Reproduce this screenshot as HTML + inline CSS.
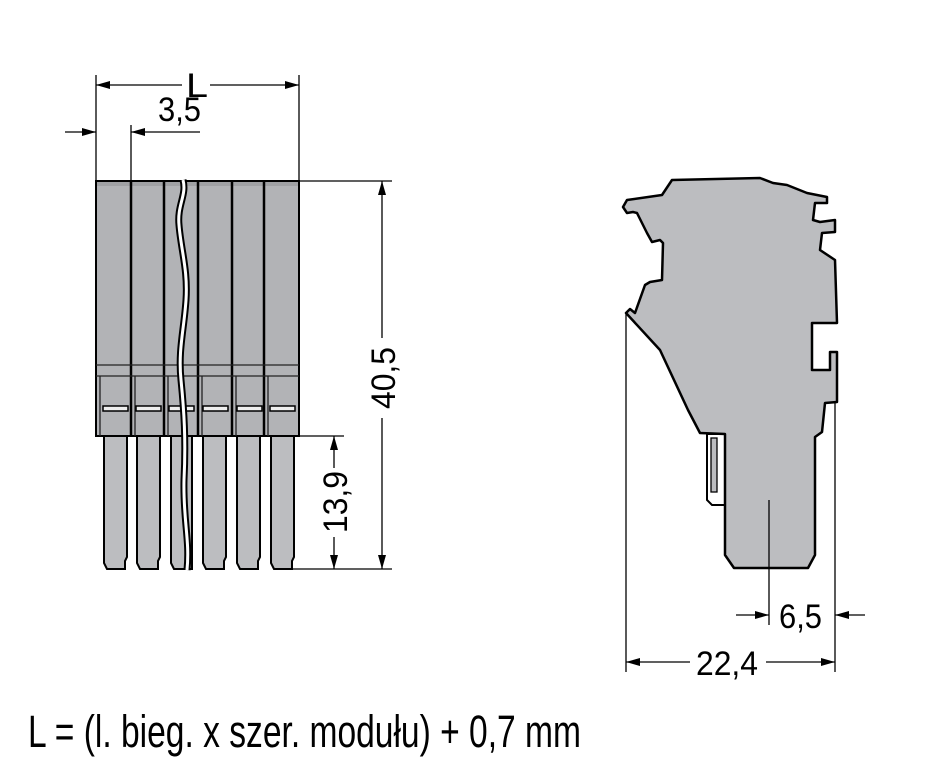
<!DOCTYPE html>
<html><head><meta charset="utf-8"><style>html,body{margin:0;padding:0;background:#fff}svg{display:block}</style></head>
<body>
<svg width="941" height="781" viewBox="0 0 941 781" xmlns="http://www.w3.org/2000/svg" font-family="Liberation Sans, sans-serif">
<defs>
<marker id="a" viewBox="0 0 14 10" refX="14" refY="5" markerWidth="14" markerHeight="10" markerUnits="userSpaceOnUse" orient="auto-start-reverse"><path d="M0,1 L14,5 L0,9Z" fill="#000"/></marker>
</defs>
<g fill="#bcbdc0" stroke="#000" stroke-width="2">
<path d="M104,436 V563 L107,569 H125 V561 L127,557 V436"/>
<path d="M137,436 V563 L140,569 H158 V561 L160,557 V436"/>
<path d="M171,436 V563 L174,569 H192 V436"/>
<path d="M203,436 V563 L206,569 H224 V561 L226,557 V436"/>
<path d="M237,436 V563 L240,569 H258 V561 L260,557 V436"/>
<path d="M271,436 V563 L274,569 H292 V561 L294,557 V436"/>
</g>
<rect x="96" y="181" width="203" height="255" fill="#b2b3b6" stroke="#000" stroke-width="2"/>
<rect x="97" y="182" width="201" height="4" fill="#a0a1a4"/>
<g stroke="#000" stroke-width="2.5">
<line x1="131" y1="181" x2="131" y2="436"/><line x1="164" y1="181" x2="164" y2="436"/>
<line x1="198" y1="181" x2="198" y2="436"/><line x1="232" y1="181" x2="232" y2="436"/>
<line x1="264" y1="181" x2="264" y2="436"/>
</g>
<g stroke="#222" stroke-width="1.3" fill="none">
<line x1="96" y1="365" x2="299" y2="365"/><line x1="96" y1="376" x2="299" y2="376"/>
<path d="M100,376V436M135,376V436M168,376V436M202,376V436M236,376V436M268,376V436"/>
</g>
<g fill="#eee" stroke="#000" stroke-width="1.5">
<rect x="103" y="406" width="25" height="5"/><rect x="136" y="406" width="25" height="5"/><rect x="169" y="406" width="25" height="5"/>
<rect x="203" y="406" width="25" height="5"/><rect x="237" y="406" width="25" height="5"/><rect x="270" y="406" width="25" height="5"/>
</g>
<path d="M183,180 C187,195 177,205 179,225 C181,250 188,270 186,300 C184,330 178,350 181,380 C184,410 186,440 184,480 C183,520 190,540 187,570" stroke="#000" stroke-width="7" fill="none"/>
<path d="M183,180 C187,195 177,205 179,225 C181,250 188,270 186,300 C184,330 178,350 181,380 C184,410 186,440 184,480 C183,520 190,540 187,570" stroke="#fff" stroke-width="3" fill="none"/>
<g stroke="#000" stroke-width="1.3" fill="none">
<line x1="96" y1="75" x2="96" y2="181"/><line x1="299" y1="75" x2="299" y2="181"/>
<line x1="131" y1="125" x2="131" y2="181"/>
<line x1="96" y1="85" x2="182" y2="85" marker-start="url(#a)"/><line x1="210" y1="85" x2="299" y2="85" marker-end="url(#a)"/>
<line x1="65" y1="132" x2="96" y2="132" marker-end="url(#a)"/>
<line x1="131" y1="132" x2="200" y2="132" marker-start="url(#a)"/>
<line x1="299" y1="181" x2="392" y2="181"/><line x1="292" y1="569" x2="392" y2="569"/>
<line x1="299" y1="436" x2="344" y2="436"/>
<line x1="382" y1="181" x2="382" y2="338" marker-start="url(#a)"/><line x1="382" y1="418" x2="382" y2="569" marker-end="url(#a)"/>
<line x1="334" y1="436" x2="334" y2="468" marker-start="url(#a)"/><line x1="334" y1="537" x2="334" y2="569" marker-end="url(#a)"/>
</g>
<g font-size="34" fill="#000">
<text x="186" y="97" textLength="22" lengthAdjust="spacingAndGlyphs">L</text>
<text x="158" y="121" textLength="43" lengthAdjust="spacingAndGlyphs">3,5</text>
<text transform="translate(395,378) rotate(-90)" text-anchor="middle" textLength="62" lengthAdjust="spacingAndGlyphs">40,5</text>
<text transform="translate(347,502) rotate(-90)" text-anchor="middle" textLength="62" lengthAdjust="spacingAndGlyphs">13,9</text>
</g>
<path d="M707,434 H725 V505 H712 L707,500 Z" fill="#fff" stroke="#000" stroke-width="2"/>
<rect x="711" y="438" width="6" height="54" fill="#bcbdc0" stroke="#000" stroke-width="1.3"/>
<path d="M626,313 L630,309 L635,313 L645,285 L650,282 L662,280 L663,243 L660,240 L652,242 L647,233 L637,213 L633,212 L627,213 L623,207 L627,200 L662,195 L672,180 L760,178 L773,183 L787,185 L807,193 L827,197 L827,203 L815,203 L813,220 L820,222 L835,220 L835,232 L822,233 L820,250 L835,260 L837,323 L812,323 L812,370 L830,370 L830,352 L837,352 L837,402 L825,403 L822,432 L815,437 L815,555 L808,568 L734,568 L725,555 L725,434 L700,433 L688,410 L660,350 Z" fill="#bcbdc0" stroke="#000" stroke-width="2.5" stroke-linejoin="round"/>
<g stroke="#000" stroke-width="1.3" fill="none">
<line x1="626" y1="313" x2="626" y2="672"/><line x1="835" y1="403" x2="835" y2="672"/>
<line x1="769" y1="500" x2="769" y2="625"/>
<line x1="626" y1="662" x2="690" y2="662" marker-start="url(#a)"/><line x1="766" y1="662" x2="835" y2="662" marker-end="url(#a)"/>
<line x1="736" y1="615" x2="769" y2="615" marker-end="url(#a)"/>
<line x1="865" y1="615" x2="835" y2="615" marker-end="url(#a)"/>
</g>
<g font-size="34" fill="#000">
<text x="779" y="628" textLength="43" lengthAdjust="spacingAndGlyphs">6,5</text>
<text x="696" y="675" textLength="62" lengthAdjust="spacingAndGlyphs">22,4</text>
</g>
<text x="28" y="747" font-size="45" textLength="553" lengthAdjust="spacingAndGlyphs">L = (l. bieg. x szer. modułu) + 0,7 mm</text>
</svg>
</body></html>
